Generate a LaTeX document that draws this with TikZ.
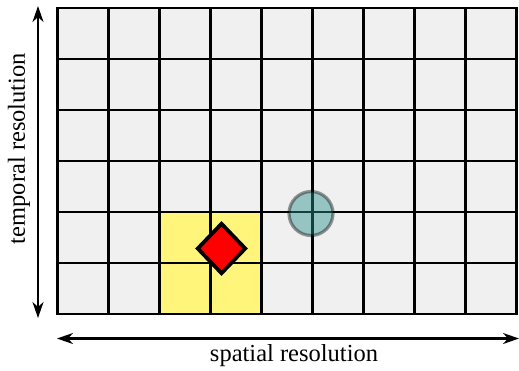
\documentclass[tikz,border=0pt]{standalone}
\usepackage{fontspec}
\setmainfont{Liberation Serif}
\usetikzlibrary{arrows.meta,shapes.geometric}

\definecolor{cellgray}{HTML}{F0F0F0}
\definecolor{cellyellow}{HTML}{FFF57A}
\definecolor{markred}{HTML}{FF0000}
\definecolor{markteal}{HTML}{2A908A}

\tikzset{
  cell/.style={draw=black, line width=2.2pt, fill=cellgray, minimum size=51pt,
    inner sep=0pt, outer sep=0pt},
  hotcell/.style={cell, fill=cellyellow},
  axisarrow/.style={line width=2.2pt, {Stealth[length=16pt,width=11pt,inset=5pt]}-{Stealth[length=16pt,width=11pt,inset=5pt]}},
  axislabel/.style={font=\fontsize{24.5}{29}\selectfont, inner sep=0pt},
  diamondmark/.style={diamond, draw=black, line width=3.8pt, fill=markred,
    minimum width=49pt, minimum height=51pt, inner sep=0pt},
  circlemark/.style={circle, draw=black, draw opacity=0.4, line width=3.2pt,
    fill=markteal, fill opacity=0.45, minimum size=44pt, inner sep=0pt}
}

\begin{document}
\begin{tikzpicture}[x=1pt, y=-1pt]
  \useasboundingbox (0,0) rectangle (519,370);

  % 9 x 6 grid of cells, top-left corner at (57.5,8)
  \foreach \c in {0,...,8} {
    \foreach \r in {0,...,5} {
      \node[cell] (cell-\c-\r) at ({57.5+25.5+51*\c},{8+25.5+51*\r}) {};
    }
  }
  % highlighted 2 x 2 block
  \foreach \c in {2,3} {
    \foreach \r in {4,5} {
      \node[hotcell] (hot-\c-\r) at ({57.5+25.5+51*\c},{8+25.5+51*\r}) {};
    }
  }

  % markers
  \node[diamondmark] (sample) at (221.5,248.5) {};
  \node[circlemark] (target) at (311,213.5) {};

  % axes
  \coordinate (vtop) at (38,6);
  \coordinate (vbot) at (38,318);
  \coordinate (hleft) at (57,338.5);
  \coordinate (hright) at (519,338.5);
  \draw[axisarrow] (vtop) -- (vbot);
  \draw[axisarrow] (hleft) -- (hright);

  \node[axislabel, rotate=90] (tlabel) at (19,148.5) {temporal resolution};
  \node[axislabel] (slabel) at (294,356) {spatial resolution};
\end{tikzpicture}
\end{document}
